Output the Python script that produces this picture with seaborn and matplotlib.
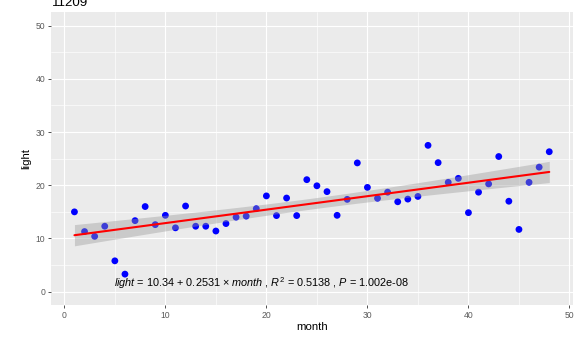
import numpy as np
import pandas as pd
import matplotlib
matplotlib.use("Agg")
import matplotlib.pyplot as plt
import seaborn as sns

# Monthly light readings for station 11209
month = list(range(1, 49))
light = [15.0, 11.3, 10.4, 12.3, 5.8, 3.3, 13.35, 16.0, 12.6, 14.35,
         12.0, 16.1, 12.3, 12.3, 11.4, 12.8, 14.0, 14.2, 15.6, 18.0,
         14.3, 17.6, 14.3, 21.05, 19.9, 18.8, 14.35, 17.35, 24.2, 19.6,
         17.55, 18.7, 16.9, 17.4, 17.9, 27.5, 24.25, 20.55, 21.3, 14.85,
         18.7, 20.25, 25.4, 17.0, 11.7, 20.55, 23.4, 26.3]
x_ticks = [0, 10, 20, 30, 40, 50]
y_ticks = [0, 10, 20, 30, 40, 50]
title = "11209"
fit_text = (r"$\it{light}$ = 10.34 + 0.2531 × $\it{month}$ , "
            r"$\it{R}^2$ = 0.5138 , $\it{P}$ = 1.002e-08")

df = pd.DataFrame({"month": month, "light": light})

sns.set_theme(style="darkgrid")
plt.rcParams["font.family"] = ["Liberation Sans", "DejaVu Sans"]
plt.rcParams["mathtext.fontset"] = "custom"
plt.rcParams["mathtext.rm"] = "Liberation Sans"
plt.rcParams["mathtext.it"] = "Liberation Sans:italic"

W, H = 576, 339
fig = plt.figure(figsize=(W / 100, H / 100), dpi=100)
ax = fig.add_axes([50.7 / W, 1 - 305 / H, (573 - 50.7) / W, (305 - 12.3) / H])
ax.set_facecolor("#EBEBEB")
for s in ax.spines.values():
    s.set_visible(False)

# points
sns.scatterplot(data=df, x="month", y="light", color="#0000FF", s=24,
                edgecolor="none", linewidth=0, ax=ax, zorder=2)

# least-squares fit with 95% confidence band
x = np.asarray(month, float)
y = np.asarray(light, float)
n = len(x)
b1, b0 = np.polyfit(x, y, 1)
resid = y - (b0 + b1 * x)
s_err = np.sqrt(np.sum(resid ** 2) / (n - 2))
xs = np.linspace(x.min(), x.max(), 100)
se = s_err * np.sqrt(1 / n + (xs - x.mean()) ** 2 / np.sum((x - x.mean()) ** 2))
t_crit = 2.0129
yhat = b0 + b1 * xs
ax.fill_between(xs, yhat - t_crit * se, yhat + t_crit * se,
                color="#999999", alpha=0.4, linewidth=0, zorder=3)
sns.regplot(data=df, x="month", y="light", scatter=False, ci=None,
            color="#FF0000", line_kws={"linewidth": 1.5, "zorder": 4}, ax=ax)

ax.text(4.9, 1.7, fit_text, ha="left", va="center", fontsize=7.85,
        color="black", zorder=5)

# axes, grid
ax.set_xlim(-1.35, 50.35)
ax.set_ylim(-2.5, 52.5)
ax.set_xticks(x_ticks)
ax.set_yticks(y_ticks)
ax.set_xticks([5, 15, 25, 35, 45], minor=True)
ax.set_yticks([5, 15, 25, 35, 45], minor=True)
ax.grid(which="major", color="white", linewidth=0.85)
ax.grid(which="minor", color="white", linewidth=0.45)
ax.set_axisbelow(True)
ax.tick_params(which="major", length=2.2, width=0.6, color="#333333",
               labelsize=6.2, labelcolor="#5A5A5A", pad=1.8,
               bottom=True, left=True)
ax.tick_params(which="minor", length=0)

ax.set_xlabel("month", fontsize=8.2, color="black")
ax.set_ylabel("light", fontsize=8.2, color="black")
ax.xaxis.set_label_coords((311.7 - 50.7) / (573 - 50.7), (305 - 327) / (305 - 12.3))
ax.xaxis.label.set_va("center")
ax.yaxis.set_label_coords((26 - 50.7) / (573 - 50.7), 0.5)
ax.yaxis.label.set_va("center")

fig.text(52 / W, 1 - 6.5 / H, title, ha="left", va="baseline",
         fontsize=9.6, color="black")

fig.savefig("out.png", dpi=100)
